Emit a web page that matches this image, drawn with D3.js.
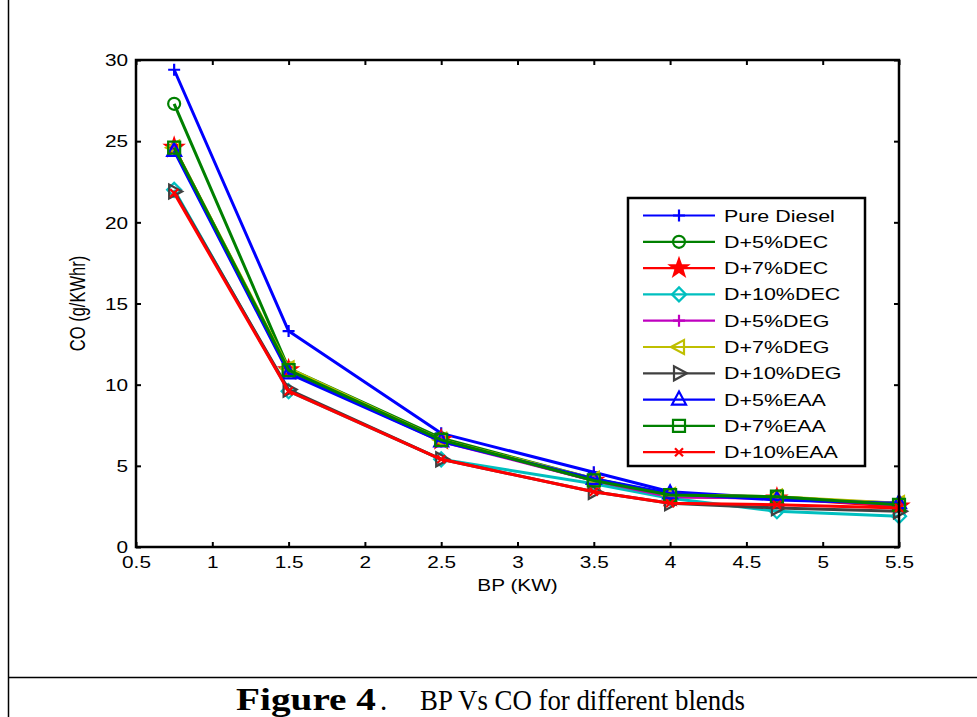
<!DOCTYPE html>
<html>
<head>
<meta charset="utf-8">
<script src="https://cdn.jsdelivr.net/npm/d3@7"></script>
<style>
  body { margin: 0; background: #fff; }
  svg text { font-family: "Liberation Sans", Arial, sans-serif; }
</style>
</head>
<body>
<svg id="chart" width="977" height="717"></svg>
<script>
// x positions (BP, kW)
var bp = [0.75, 1.5, 2.5, 3.5, 4, 4.7, 5.5];

// CO values (g/kWhr) per blend
var pureDiesel = [29.4, 13.3, 7.0, 4.6, 3.4, 3.0, 2.7];
var dec5  = [27.3, 11.0, 6.7, 4.2, 3.2, 3.1, 2.6];
var dec7  = [24.6, 10.9, 6.6, 4.1, 3.1, 3.0, 2.5];
var dec10 = [22.0, 9.6, 5.4, 3.9, 3.0, 2.2, 1.9];
var deg5  = [24.5, 10.8, 6.5, 4.1, 3.1, 3.0, 2.6];
var deg7  = [24.6, 11.0, 6.6, 4.2, 3.2, 3.1, 2.7];
var deg10 = [21.9, 9.7, 5.4, 3.4, 2.7, 2.4, 2.2];
var eaa5  = [24.4, 10.7, 6.5, 4.2, 3.3, 2.9, 2.7];
var eaa7  = [24.6, 10.9, 6.6, 4.1, 3.2, 3.1, 2.6];
var eaa10 = [21.8, 9.6, 5.4, 3.4, 2.7, 2.6, 2.4];

var names = ["Pure Diesel", "D+5%DEC", "D+7%DEC", "D+10%DEC", "D+5%DEG",
             "D+7%DEG", "D+10%DEG", "D+5%EAA", "D+7%EAA", "D+10%EAA"];
var values = [pureDiesel, dec5, dec7, dec10, deg5, deg7, deg10, eaa5, eaa7, eaa10];
var colors = ["#0000ff", "#008000", "#ff0000", "#00bfbf", "#bf00bf",
              "#bfbf00", "#404040", "#0000ff", "#008000", "#ff0000"];
var markers = ["plus", "circle", "star", "diamond", "plus",
               "triLeft", "triRight", "triUp", "square", "x"];

var xTicks = [0.5, 1, 1.5, 2, 2.5, 3, 3.5, 4, 4.5, 5, 5.5];
var yTicks = [0, 5, 10, 15, 20, 25, 30];

var svg = d3.select("#chart");
var pLeft = 136, pRight = 899, pTop = 60, pBottom = 547;
var stretch = 1.3;   // the figure's text is wider than plain Arial

var x = d3.scaleLinear().domain([0.5, 5.5]).range([pLeft, pRight]);
var y = d3.scaleLinear().domain([0, 30]).range([pBottom, pTop]);

// outer frame of the figure
svg.append("line").attr("x1", 8.5).attr("x2", 8.5).attr("y1", 0).attr("y2", 717)
  .attr("stroke", "#000").attr("stroke-width", 1.5);
svg.append("line").attr("x1", 8).attr("x2", 977).attr("y1", 677.5).attr("y2", 677.5)
  .attr("stroke", "#000").attr("stroke-width", 1.5);

// axes with inward ticks on all sides
function fmt(d) { return d3.format("")(d); }
var xAx = svg.append("g").attr("transform", "translate(0," + pBottom + ")")
  .call(d3.axisBottom(x).tickValues(xTicks).tickSize(-5).tickFormat(fmt));
xAx.selectAll(".tick text").attr("y", 21).attr("dy", null).attr("x", 0)
  .attr("transform", "scale(" + stretch + ",1)");
svg.append("g").attr("transform", "translate(0," + pTop + ")")
  .call(d3.axisTop(x).tickValues(xTicks).tickSize(-5).tickFormat(""));
var yAx = svg.append("g").attr("transform", "translate(" + pLeft + ",0)")
  .call(d3.axisLeft(y).tickValues(yTicks).tickSize(-5).tickFormat(fmt));
yAx.selectAll(".tick text").attr("x", -8 / stretch).attr("dy", "0.36em")
  .attr("transform", "scale(" + stretch + ",1)");
svg.append("g").attr("transform", "translate(" + pRight + ",0)")
  .call(d3.axisRight(y).tickValues(yTicks).tickSize(-5).tickFormat(""));

svg.selectAll(".domain").remove();
svg.selectAll(".tick line").attr("stroke", "#000").attr("stroke-width", 2);
svg.selectAll(".tick text").attr("font-size", 16).attr("fill", "#000")
  .style("font-family", "'Liberation Sans', Arial, sans-serif");

// axis labels
svg.append("text").attr("transform", "translate(" + ((pLeft + pRight) / 2) + ",591) scale(" + stretch + ",1)")
  .attr("text-anchor", "middle").attr("font-size", 16).text("BP (KW)");
svg.append("text").attr("transform", "translate(85," + ((pTop + pBottom) / 2) + ") scale(" + stretch + ",1) rotate(-90)")
  .attr("text-anchor", "middle").attr("font-size", 16.5).text("CO (g/KWhr)");

// markers
function starPath(r) {
  var pts = [];
  for (var i = 0; i < 10; i++) {
    var a = -Math.PI / 2 + i * Math.PI / 5;
    var rr = i % 2 === 0 ? r : r * 0.4;
    pts.push([rr * Math.cos(a), rr * Math.sin(a)]);
  }
  return "M" + pts.join("L") + "Z";
}
function markerPath(type) {
  switch (type) {
    case "plus": return "M-6,0H6M0,-6V6";
    case "x": return "M-4,-4L4,4M-4,4L4,-4";
    case "circle": return "M6,0A6,6 0 1,1 -6,0A6,6 0 1,1 6,0Z";
    case "star": return starPath(9);
    case "diamond": return "M0,-7L7,0L0,7L-7,0Z";
    case "square": return "M-6,-6H6V6H-6Z";
    case "triUp": return "M0,-8L7,5H-7Z";
    case "triLeft": return "M-8,0L5,-7V7Z";
    case "triRight": return "M8,0L-5,-7V7Z";
  }
}
function drawMarker(g, type, color) {
  g.append("path").attr("d", markerPath(type))
    .attr("fill", type === "star" ? color : "none")
    .attr("stroke", color).attr("stroke-width", 2.2);
}

var line = d3.line().x(function(d, i) { return x(bp[i]); }).y(function(d) { return y(d); });

values.forEach(function(vals, k) {
  var g = svg.append("g");
  g.append("path").datum(vals).attr("d", line)
    .attr("fill", "none").attr("stroke", colors[k]).attr("stroke-width", 3)
    .attr("stroke-linejoin", "round");
  g.selectAll("g.m").data(vals).enter().append("g")
    .attr("transform", function(d, i) { return "translate(" + x(bp[i]) + "," + y(d) + ")"; })
    .each(function() { drawMarker(d3.select(this), markers[k], colors[k]); });
});

// plot box
svg.append("rect").attr("x", pLeft).attr("y", pTop).attr("width", pRight - pLeft).attr("height", pBottom - pTop)
  .attr("fill", "none").attr("stroke", "#000").attr("stroke-width", 2.5);

// legend
var lg = svg.append("g");
lg.append("rect").attr("x", 628).attr("y", 198).attr("width", 237).attr("height", 268)
  .attr("fill", "#fff").attr("stroke", "#000").attr("stroke-width", 2.5);
names.forEach(function(n, k) {
  var ly = 215.5 + k * 26.3;
  lg.append("line").attr("x1", 643).attr("x2", 715).attr("y1", ly).attr("y2", ly)
    .attr("stroke", colors[k]).attr("stroke-width", 2.2);
  var mg = lg.append("g").attr("transform", "translate(679," + ly + ")");
  drawMarker(mg, markers[k], colors[k]);
  lg.append("text").attr("transform", "translate(724," + (ly + 6) + ") scale(" + stretch + ",1)")
    .attr("font-size", 16.5).text(n);
});

// caption
var serif = "'Liberation Serif', 'Times New Roman', serif";
svg.append("text").attr("x", 236).attr("y", 710).attr("font-size", 31)
  .attr("font-weight", "bold").style("font-family", serif)
  .attr("textLength", 140).attr("lengthAdjust", "spacingAndGlyphs").text("Figure 4");
svg.append("text").attr("x", 380).attr("y", 710).attr("font-size", 29)
  .style("font-family", serif).text(".");
svg.append("text").attr("x", 420).attr("y", 710).attr("font-size", 29)
  .style("font-family", serif)
  .attr("textLength", 325).attr("lengthAdjust", "spacingAndGlyphs").text("BP Vs CO for different blends");
</script>
</body>
</html>
